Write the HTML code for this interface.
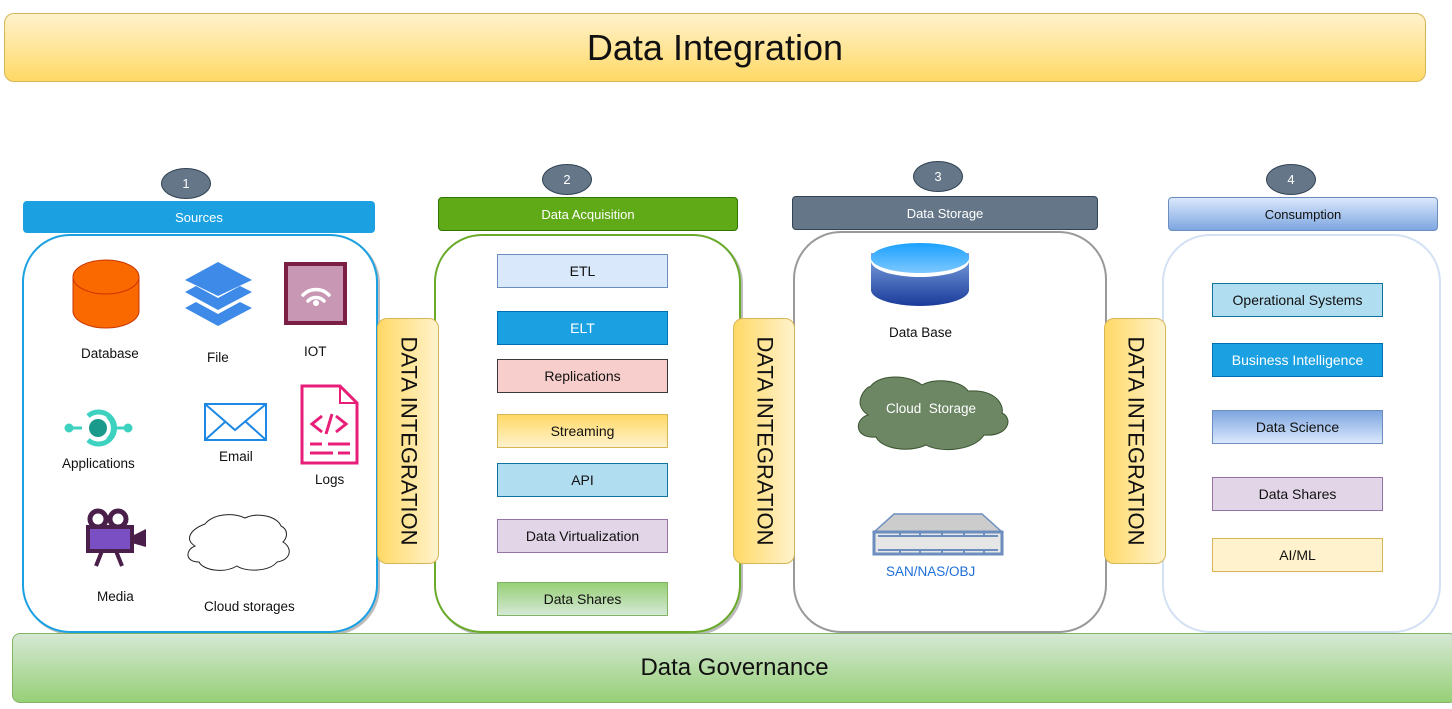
<!DOCTYPE html>
<html><head><meta charset="utf-8"><style>
body{margin:0;width:1452px;height:709px;background:#fff;position:relative;overflow:hidden;font-family:"Liberation Sans",Arial,sans-serif;}
.a{position:absolute;box-sizing:border-box;display:flex;align-items:center;justify-content:center;text-align:center;}
.circ{width:50px;height:31px;border-radius:50%;background:#647687;border:1px solid #314354;color:#fff;font-size:13px;}
.hdr{border-radius:4px;font-size:13px;}
.box{border-radius:48px;background:#fff;}
.it{width:171px;height:34px;font-size:14px;color:#111;border:1.5px solid;}
.di{width:62px;height:246px;border-radius:10px;border:1px solid #d6b656;background:linear-gradient(90deg,#ffd966,#fff2cc);}
.di span{transform:rotate(90deg);white-space:nowrap;font-size:22px;color:#111;}
.lbl{position:absolute;font-size:13.5px;color:#111;}
</style></head><body>

<div class="a" style="left:4px;top:13px;width:1422px;height:69px;border-radius:10px;border:1px solid #d6b656;background:linear-gradient(#fff2cc,#ffd966);font-size:36px;color:#111;">Data Integration</div>

<!-- column 1 -->
<div class="a circ" style="left:161px;top:168px;">1</div>
<div class="a hdr" style="left:23px;top:201px;width:352px;height:32px;background:#1ba1e2;color:#fff;">Sources</div>
<div class="a box" style="left:22px;top:234px;width:356px;height:399px;border:2px solid #1ba1e2;box-shadow:2px 2px 0 #bbb;"></div>

<!-- column 2 -->
<div class="a circ" style="left:542px;top:164px;">2</div>
<div class="a hdr" style="left:438px;top:197px;width:300px;height:34px;background:#60a917;border:1px solid #2d7600;color:#fff;">Data Acquisition</div>
<div class="a box" style="left:434px;top:234px;width:307px;height:399px;border:2px solid #6aaa2a;box-shadow:2px 2px 0 #bbb;"></div>
<div class="a it" style="left:497px;top:254px;background:#dae8fc;border-color:#6c8ebf;">ETL</div>
<div class="a it" style="left:497px;top:311px;background:#1ba1e2;border-color:#006eaf;color:#fff;">ELT</div>
<div class="a it" style="left:497px;top:359px;background:#f8cecc;border-color:#36393d;">Replications</div>
<div class="a it" style="left:497px;top:414px;background:linear-gradient(#ffd966,#fff2cc);border-color:#d6b656;">Streaming</div>
<div class="a it" style="left:497px;top:463px;background:#b1ddf0;border-color:#10739e;">API</div>
<div class="a it" style="left:497px;top:519px;background:#e1d5e7;border-color:#9673a6;">Data Virtualization</div>
<div class="a it" style="left:497px;top:582px;background:linear-gradient(#97d077,#d5e8d4);border-color:#82b366;">Data Shares</div>

<!-- column 3 -->
<div class="a circ" style="left:913px;top:161px;">3</div>
<div class="a hdr" style="left:792px;top:196px;width:306px;height:34px;background:#647687;border:1px solid #314354;color:#fff;">Data Storage</div>
<div class="a box" style="left:793px;top:231px;width:314px;height:402px;border:2px solid #999;"></div>

<!-- column 4 -->
<div class="a circ" style="left:1266px;top:164px;">4</div>
<div class="a hdr" style="left:1168px;top:197px;width:270px;height:34px;background:linear-gradient(#dae8fc,#7ea6e0);border:1px solid #6c8ebf;color:#111;">Consumption</div>
<div class="a box" style="left:1162px;top:234px;width:279px;height:399px;border:2px solid #d4e1f5;"></div>
<div class="a it" style="left:1212px;top:283px;background:#b1ddf0;border-color:#10739e;">Operational Systems</div>
<div class="a it" style="left:1212px;top:343px;background:#1ba1e2;border-color:#006eaf;color:#fff;">Business Intelligence</div>
<div class="a it" style="left:1212px;top:410px;background:linear-gradient(#7ea6e0,#dae8fc);border-color:#6c8ebf;">Data Science</div>
<div class="a it" style="left:1212px;top:477px;background:#e1d5e7;border-color:#9673a6;">Data Shares</div>
<div class="a it" style="left:1212px;top:538px;background:#fff2cc;border-color:#d6b656;">AI/ML</div>

<!-- integration bars -->
<div class="a di" style="left:377px;top:318px;"><span>DATA INTEGRATION</span></div>
<div class="a di" style="left:733px;top:318px;"><span>DATA INTEGRATION</span></div>
<div class="a di" style="left:1104px;top:318px;"><span>DATA INTEGRATION</span></div>

<!-- governance -->
<div class="a" style="left:12px;top:633px;width:1445px;height:70px;border-radius:8px;border:1px solid #82b366;background:linear-gradient(#d5e8d4,#97d077);font-size:24px;color:#111;">Data Governance</div>

<!-- icons -->
<svg style="position:absolute;left:0;top:0" width="1452" height="709">
 <defs>
  <linearGradient id="dbg" x1="0" y1="0" x2="0" y2="1"><stop offset="0" stop-color="#7ea6e0"/><stop offset="1" stop-color="#1a3a9a"/></linearGradient>
  <linearGradient id="dbt" x1="0" y1="0" x2="0" y2="1"><stop offset="0" stop-color="#1ba1ff"/><stop offset="1" stop-color="#7ec8ff"/></linearGradient>
 </defs>
 <!-- database -->
 <path d="M73 277 v34 a33 17 0 0 0 66 0 v-34" fill="#fa6800" stroke="#c73500"/>
 <ellipse cx="106" cy="277" rx="33" ry="17" fill="#fa6800" stroke="#c73500"/>
 <!-- file layers -->
 <polygon points="218,262 252,280 218,296 185,280" fill="#3d8ae8"/>
 <polygon points="185,292 196,286 218,298 240,286 252,292 218,310" fill="#3d8ae8"/>
 <polygon points="185,308 196,302 218,314 240,302 252,308 218,326" fill="#3d8ae8"/>
 <!-- IOT -->
 <rect x="286" y="264" width="59" height="59" fill="#c797b4" stroke="#7b1f45" stroke-width="4"/>
 <path d="M303 295 a18 18 0 0 1 26 0 M308 301 a11 11 0 0 1 16 0" fill="none" stroke="#fff" stroke-width="3.5" stroke-linecap="round"/>
 <circle cx="316" cy="303" r="3" fill="#fff"/>
 <!-- applications -->
 <path d="M88 416 a16 16 0 1 1 0 24 M108 440 a16 16 0 0 0 0 -24" fill="none" stroke="#3dd2c0" stroke-width="5"/>
 <circle cx="98" cy="428" r="9" fill="#1a9a8a"/>
 <line x1="69" y1="428" x2="82" y2="428" stroke="#3dd2c0" stroke-width="3"/><circle cx="69" cy="428" r="4.5" fill="#3dd2c0"/>
 <line x1="114" y1="428" x2="128" y2="428" stroke="#3dd2c0" stroke-width="3"/><circle cx="128" cy="428" r="4.5" fill="#3dd2c0"/>
 <!-- email -->
 <rect x="205" y="404" width="61" height="36" fill="#fff" stroke="#1e88e5" stroke-width="2"/>
 <path d="M205 404 L235 430 L266 404 M205 440 L225 422 M266 440 L246 422" fill="none" stroke="#1e88e5" stroke-width="2"/>
 <!-- logs -->
 <path d="M302 386 H340 L357 403 V463 H302 Z" fill="#fff" stroke="#e91e78" stroke-width="3"/>
 <path d="M340 386 V403 H357" fill="none" stroke="#e91e78" stroke-width="2"/>
 <path d="M322 416 L312 424 L322 432 M336 416 L346 424 L336 432 M332 414 L326 434" fill="none" stroke="#e91e78" stroke-width="3"/>
 <path d="M310 444 H322 M328 444 H350 M310 453 H333 M338 453 H350" stroke="#e91e78" stroke-width="3"/>
 <!-- media -->
 <circle cx="98" cy="519" r="8" fill="none" stroke="#4a1f4a" stroke-width="5"/>
 <circle cx="118" cy="519" r="8" fill="none" stroke="#4a1f4a" stroke-width="5"/>
 <rect x="88" y="527" width="44" height="24" fill="#7b4fc4" stroke="#4a1f4a" stroke-width="4"/>
 <polygon points="132,536 146,529 146,547 132,543" fill="#4a1f4a"/>
 <path d="M102 551 L96 566 M116 551 L122 566" stroke="#4a1f4a" stroke-width="4"/>
 <!-- cloud outline -->
 <path d="M205 524 c8-10 28-12 40-6 c12-6 32-2 36 8 c8 4 6 12 2 16 c10 6 8 18-6 20 c-8 10-32 10-40 4 c-14 8-34 4-38-4 c-14 0-14-12-4-16 c-10-6-6-16 10-22 z" fill="#fff" stroke="#222"/>
 <!-- storage database -->
 <path d="M871 253 v37 a49 16 0 0 0 98 0 v-37" fill="url(#dbg)"/>
 <ellipse cx="920" cy="261" rx="49" ry="16" fill="#fff"/>
 <ellipse cx="920" cy="258" rx="49" ry="15" fill="url(#dbt)"/>
 <!-- green cloud -->
 <path d="M870 387 c10-14 40-12 52-2 c14-8 40-4 46 6 c30-2 36 16 34 22 c12 6 6 24-18 22 c-10 16-44 18-58 10 c-18 8-44 4-50-8 c-22 2-22-18-8-22 c-18-12 0-30 2-28 z" fill="#6d8764" stroke="#3a5431"/>
 <!-- server -->
 <polygon points="874,532 894,514 982,514 1002,532" fill="#ccc" stroke="#6c8ebf" stroke-width="1.5"/>
 <rect x="874" y="532" width="128" height="22" fill="#e6e6e6" stroke="#6c8ebf" stroke-width="3"/>
 <path d="M878 536 H998 M878 550 H998 M900 533 V537 M920 533 V537 M942 533 V537 M964 533 V537 M984 533 V537 M900 549 V553 M920 549 V553 M942 549 V553 M964 549 V553 M984 549 V553" stroke="#6c8ebf" stroke-width="2"/>
</svg>
<div class="lbl" style="left:81px;top:346px;">Database</div>
<div class="lbl" style="left:207px;top:350px;">File</div>
<div class="lbl" style="left:304px;top:344px;">IOT</div>
<div class="lbl" style="left:62px;top:456px;">Applications</div>
<div class="lbl" style="left:219px;top:449px;">Email</div>
<div class="lbl" style="left:315px;top:472px;">Logs</div>
<div class="lbl" style="left:97px;top:589px;">Media</div>
<div class="lbl" style="left:204px;top:599px;">Cloud storages</div>
<div class="lbl" style="left:889px;top:325px;">Data Base</div>
<div class="lbl" style="left:886px;top:401px;color:#fff;">Cloud&nbsp; Storage</div>
<div class="lbl" style="left:886px;top:564px;color:#1e6fd9;">SAN/NAS/OBJ</div>
</body></html>
